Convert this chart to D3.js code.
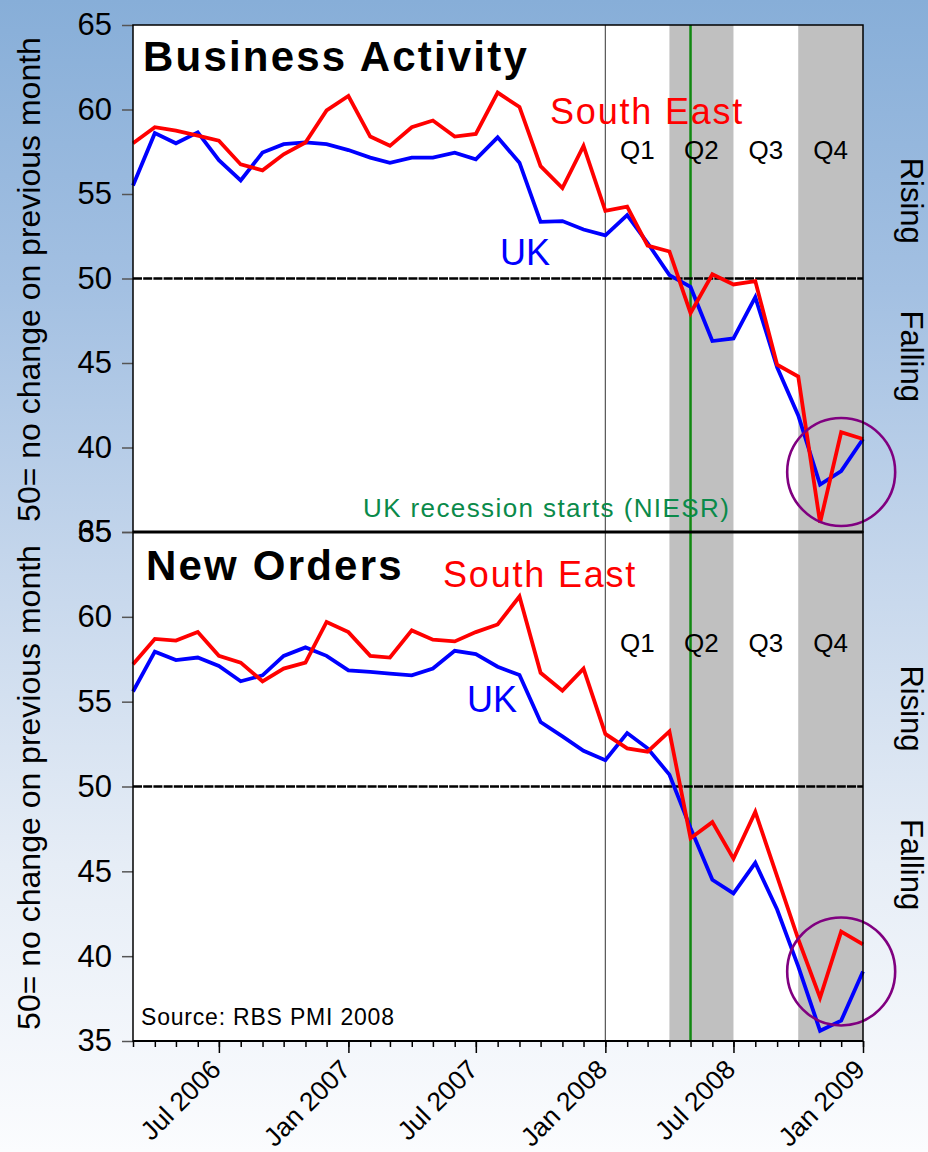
<!DOCTYPE html>
<html><head><meta charset="utf-8">
<script src="https://cdn.jsdelivr.net/npm/d3@7"></script>
<style>body{margin:0;} svg{display:block;} text{font-family:"Liberation Sans",Arial,Helvetica,sans-serif;}</style>
</head><body><svg id="c" width="928" height="1152"></svg>
<script>
// ---------- data ----------
const months = ["2006-03","2006-04","2006-05","2006-06","2006-07","2006-08","2006-09","2006-10","2006-11","2006-12",
  "2007-01","2007-02","2007-03","2007-04","2007-05","2007-06","2007-07","2007-08","2007-09","2007-10","2007-11","2007-12",
  "2008-01","2008-02","2008-03","2008-04","2008-05","2008-06","2008-07","2008-08","2008-09","2008-10","2008-11","2008-12","2009-01"];
const baUK = [55.5,58.6,58.0,58.65,57.0,55.8,57.45,57.95,58.05,57.95,57.6,57.15,56.85,57.15,57.15,57.45,57.05,58.35,56.85,53.35,53.4,52.9,52.55,53.75,52.1,50.2,49.5,46.3,46.45,48.9,44.75,41.9,37.8,38.6,40.5];
const baSE = [58.0,58.95,58.75,58.45,58.15,56.75,56.4,57.35,58.05,59.95,60.8,58.4,57.85,58.95,59.35,58.4,58.55,61.0,60.15,56.65,55.35,57.85,54.0,54.25,51.95,51.6,47.95,50.25,49.65,49.85,44.9,44.2,35.55,40.9,40.5];
const noUK = [55.6,57.95,57.45,57.6,57.1,56.2,56.55,57.7,58.2,57.7,56.85,56.75,56.65,56.55,56.95,58.0,57.8,57.06,56.57,53.8,52.95,52.1,51.55,53.15,52.25,50.7,47.55,44.5,43.7,45.5,42.75,39.4,35.6,36.2,39.1];
const noSE = [57.2,58.7,58.6,59.1,57.7,57.3,56.2,56.95,57.3,59.7,59.1,57.7,57.6,59.2,58.65,58.55,59.1,59.55,61.2,56.7,55.65,56.95,53.1,52.25,52.05,53.25,46.95,47.9,45.75,48.5,44.7,41.0,37.55,41.45,40.7];
const yTicks = [35,40,45,50,55,60,65];
const xLabelTicks = ["2006-07","2007-01","2007-07","2008-01","2008-07","2009-01"];
const quarterLabels = ["Q1","Q2","Q3","Q4"];
const quarterStart = ["2008-01","2008-04","2008-07","2008-10"];
const quarterEnd = ["2008-04","2008-07","2008-10","2009-01"];
const quarterShaded = [false,true,false,true];
const recessionStart = "2008-05";
const yearLine = "2008-01";
const circleMonth = "2008-12";
const circleValues = [38.55, 39.1];
const panelTitles = ["Business Activity","New Orders"];

// ---------- setup ----------
const parse = d3.utcParse("%Y-%m");
const dates = months.map(parse);
const svg = d3.select("#c");
const W = 928, H = 1152;
const L = 133, R = 863;
const panels = [{top:25, bottom:532}, {top:532, bottom:1041}];

const defs = svg.append("defs");
const g = defs.append("linearGradient").attr("id","bg").attr("x1",0).attr("y1",0).attr("x2",0).attr("y2",1);
[[0,"#87aed8"],[0.25,"#a3c0e2"],[0.5,"#c6d7ec"],[0.75,"#e6edf6"],[1,"#fbfcfe"]].forEach(([o,c])=>g.append("stop").attr("offset",o).attr("stop-color",c));
svg.append("rect").attr("width",W).attr("height",H).attr("fill","url(#bg)");

const x = d3.scaleUtc().domain([dates[0], dates[dates.length-1]]).range([L, R]);
const ys = panels.map(p => d3.scaleLinear().domain([35,65]).range([p.bottom, p.top]));

svg.append("rect").attr("x",L).attr("y",panels[0].top).attr("width",R-L).attr("height",panels[1].bottom-panels[0].top).attr("fill","#fff");

// quarter shading
quarterLabels.forEach((q,i)=>{
  if(quarterShaded[i]){
    svg.append("rect").attr("x",x(parse(quarterStart[i]))).attr("y",panels[0].top)
      .attr("width",x(parse(quarterEnd[i]))-x(parse(quarterStart[i])))
      .attr("height",panels[1].bottom-panels[0].top).attr("fill","#c0c0c0");
  }
});

// Jan 2008 line
svg.append("line").attr("x1",x(parse(yearLine))).attr("x2",x(parse(yearLine)))
  .attr("y1",panels[0].top).attr("y2",panels[1].bottom).attr("stroke","#555").attr("stroke-width",1.2);

// recession line
svg.append("line").attr("x1",x(parse(recessionStart))).attr("x2",x(parse(recessionStart)))
  .attr("y1",panels[0].top).attr("y2",panels[1].bottom).attr("stroke","#118811").attr("stroke-width",2.5);

const series = [[baSE, baUK],[noSE, noUK]];
panels.forEach((p,pi)=>{
  const y = ys[pi];
  const gp = svg.append("g");
  // 50 line
  gp.append("line").attr("x1",L).attr("x2",R).attr("y1",y(50)).attr("y2",y(50))
    .attr("stroke","#000").attr("stroke-width",2.5).attr("stroke-dasharray","9,1.2");
  // Q labels
  quarterLabels.forEach((q,i)=>{
    gp.append("text").attr("x",(x(parse(quarterStart[i]))+x(parse(quarterEnd[i])))/2)
      .attr("y", pi===0 ? 159 : 652).attr("text-anchor","middle").attr("font-size",26).attr("fill","#000").text(q);
  });
  const line = d3.line().x((d,i)=>x(dates[i])).y(d=>y(d));
  gp.append("path").datum(series[pi][1]).attr("d",line).attr("fill","none").attr("stroke","#0000ff").attr("stroke-width",3.8).attr("stroke-linejoin","miter");
  gp.append("path").datum(series[pi][0]).attr("d",line).attr("fill","none").attr("stroke","#ff0000").attr("stroke-width",3.8).attr("stroke-linejoin","miter");
  // circle
  gp.append("circle").attr("cx",x(parse(circleMonth))).attr("cy",y(circleValues[pi])).attr("r",54)
    .attr("fill","none").attr("stroke","#800080").attr("stroke-width",2.6);
  // left axis
  const ax = gp.append("g").attr("transform",`translate(${L},0)`)
    .call(d3.axisLeft(y).tickValues(yTicks).tickSize(11).tickPadding(10).tickFormat(d3.format("d")));
  ax.select(".domain").remove();
  ax.selectAll(".tick line").attr("stroke","#555").attr("stroke-width",1.5);
  ax.selectAll(".tick text").attr("font-size",31).attr("fill","#000").attr("font-family",null);
  // frame
  gp.append("rect").attr("x",L).attr("y",p.top).attr("width",R-L).attr("height",p.bottom-p.top)
    .attr("fill","none").attr("stroke","#000").attr("stroke-width",1.5);
  // y title
  gp.append("text").attr("transform",`translate(40,${(p.top+p.bottom)/2+1}) rotate(-90)`)
    .attr("text-anchor","middle").attr("font-size",32).attr("fill","#000").text("50= no change on previous month");
  // Rising / Falling
  gp.append("text").attr("transform",`translate(901,${y(54.6)}) rotate(90)`).attr("text-anchor","middle")
    .attr("font-size",31).attr("fill","#000").text("Rising");
  gp.append("text").attr("transform",`translate(901,${y(45.4)}) rotate(90)`).attr("text-anchor","middle")
    .attr("font-size",31).attr("fill","#000").text("Falling");
  // panel title
  gp.append("text").attr("x",pi===0?143:146).attr("y",pi===0?71:580).attr("font-size",42).attr("font-weight","bold")
    .attr("letter-spacing",2.2).attr("fill","#000").text(panelTitles[pi]);
});

// thick separator
svg.append("line").attr("x1",L).attr("x2",R).attr("y1",532).attr("y2",532).attr("stroke","#000").attr("stroke-width",3);

// series labels
svg.append("text").attr("x",550).attr("y",124).attr("font-size",36).attr("letter-spacing",1.8).attr("fill","#ff0000").text("South East");
svg.append("text").attr("x",500).attr("y",265).attr("font-size",36).attr("fill","#0000ff").text("UK");
svg.append("text").attr("x",443).attr("y",587).attr("font-size",36).attr("letter-spacing",1.8).attr("fill","#ff0000").text("South East");
svg.append("text").attr("x",467).attr("y",712).attr("font-size",36).attr("fill","#0000ff").text("UK");

svg.append("text").attr("x",363).attr("y",517).attr("font-size",26).attr("letter-spacing",1.4).attr("fill","#0a8a4a").text("UK recession starts (NIESR)");
svg.append("text").attr("x",141).attr("y",1025).attr("font-size",23).attr("letter-spacing",0.8).attr("fill","#000").text("Source: RBS PMI 2008");

// bottom axis
const minor = svg.append("g").attr("transform",`translate(0,${panels[1].bottom})`)
  .call(d3.axisBottom(x).tickValues(dates).tickSize(6).tickFormat(""));
minor.select(".domain").remove();
minor.selectAll(".tick line").attr("stroke","#000").attr("stroke-width",1.5);
const major = svg.append("g").attr("transform",`translate(0,${panels[1].bottom})`)
  .call(d3.axisBottom(x).tickValues(xLabelTicks.map(parse)).tickSize(12).tickFormat(d3.utcFormat("%b %Y")));
major.select(".domain").remove();
major.selectAll(".tick line").attr("stroke","#000").attr("stroke-width",1.5);
major.selectAll(".tick text").attr("font-size",26.5).attr("fill","#000").attr("font-family",null)
  .attr("text-anchor","end").attr("dy",null).attr("y",null)
  .attr("transform","translate(3,30) rotate(-45)");
svg.append("line").attr("x1",L).attr("x2",R).attr("y1",panels[1].bottom).attr("y2",panels[1].bottom).attr("stroke","#000").attr("stroke-width",2);
</script></body></html>
